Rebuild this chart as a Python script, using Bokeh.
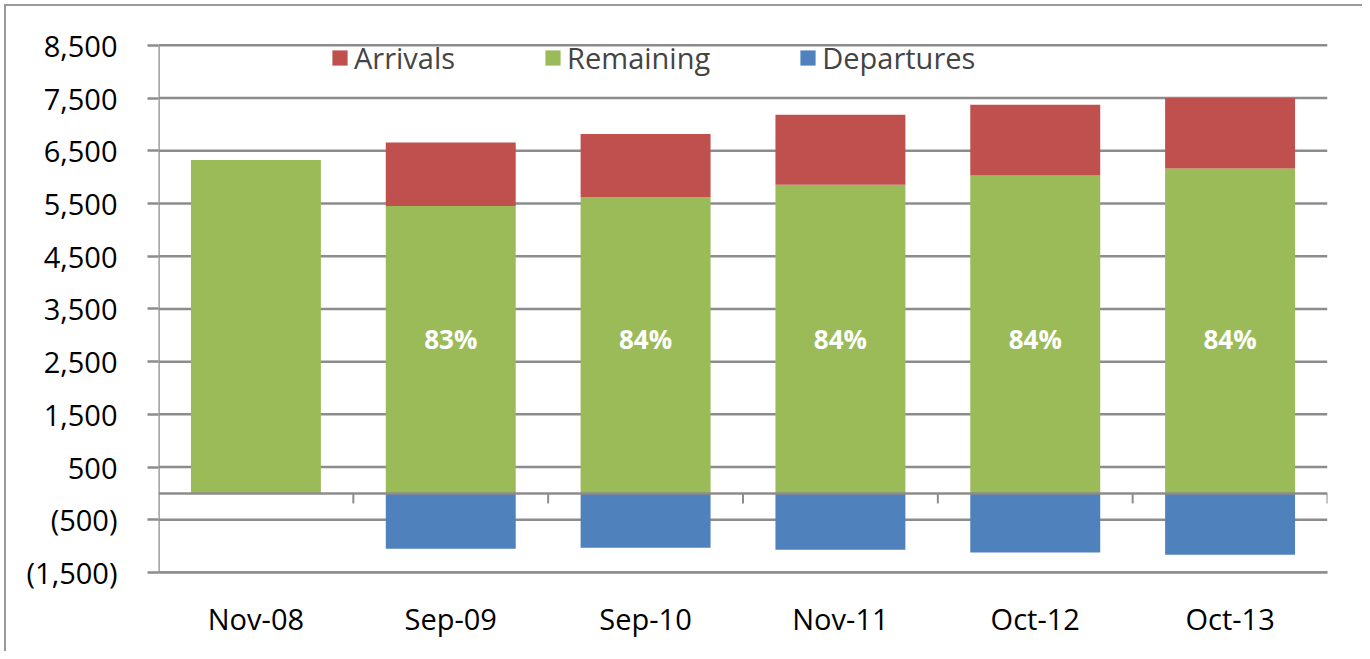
from bokeh.plotting import figure
from bokeh.models import (Range1d, FixedTicker, Legend, LegendItem, ColumnDataSource,
                          Span, LinearAxis, InlineStyleSheet)
from bokeh.core.properties import value
from bokeh.embed import file_html
from bokeh.resources import INLINE

# ---- data ----
categories = ["Nov-08", "Sep-09", "Sep-10", "Nov-11", "Oct-12", "Oct-13"]
remaining = [6325, 5450, 5625, 5855, 6030, 6165]
arrivals = [0, 1205, 1195, 1328, 1343, 1335]
departures = [0, -1050, -1030, -1070, -1120, -1165]
pct_labels = ["", "83%", "84%", "84%", "84%", "84%"]
y_ticks = [-1500, -500, 500, 1500, 2500, 3500, 4500, 5500, 6500, 7500, 8500]
pct_label_y = 2930

RED = "#C0504D"
GREEN = "#9BBB59"
BLUE = "#4F81BD"
GRID = "#8C8C8C"
FONT = "Open Sans"

n = len(categories)
xs = [i + 0.5 for i in range(n)]
bw = 0.667

src = ColumnDataSource(dict(
    x=xs, rem=remaining,
    arr_bottom=remaining,
    arr_top=[r + a for r, a in zip(remaining, arrivals)],
    dep=departures, zero=[0] * n, pct=pct_labels,
    pct_y=[pct_label_y] * n,
))

p = figure(width=1362, height=651, output_backend="svg", toolbar_location=None,
           x_range=Range1d(0, n), y_range=Range1d(-1500, 8800),
           min_border_left=158, min_border_right=35, min_border_top=29,
           min_border_bottom=79, x_axis_location=None, y_axis_location=None)
p.outline_line_color = None
p.background_fill_color = "white"
p.border_fill_color = "white"
p.xgrid.visible = False
p.ygrid.visible = False

# outer chart border (left and top edges), drawn with CSS
p.stylesheets = [InlineStyleSheet(css="""
:host { position: relative; }
:host::after { content: ''; position: absolute; left: 4px; top: 4px; right: 0; bottom: 0;
  border-left: 2px solid #9A9A9A; border-top: 2px solid #9A9A9A; pointer-events: none; }
""")]

# horizontal gridlines
for t in y_ticks:
    p.add_layout(Span(location=t, dimension="width", line_color=GRID, line_width=2.5,
                      level="underlay"))

# y axis line (from -1500 to 8500)
p.segment(x0=[0], x1=[0], y0=[y_ticks[0]], y1=[y_ticks[-1]], line_color=GRID,
          line_width=2.5)

r_rem = p.vbar(x="x", bottom="zero", top="rem", width=bw, source=src,
               fill_color=GREEN, line_color=None)
r_arr = p.vbar(x="x", bottom="arr_bottom", top="arr_top", width=bw, source=src,
               fill_color=RED, line_color=None)
r_dep = p.vbar(x="x", bottom="dep", top="zero", width=bw, source=src,
               fill_color=BLUE, line_color=None)

# zero line with category-boundary ticks
p.add_layout(Span(location=0, dimension="width", line_color=GRID, line_width=2.5))
bx = list(range(1, n + 1))
p.segment(x0=bx, x1=bx, y0=[0] * n, y1=[-190] * n, line_color=GRID, line_width=2)

# percent labels
p.text(x="x", y="pct_y", text="pct", source=src, text_color="white",
       text_font=value(FONT), text_font_style="bold", text_font_size="26px",
       text_align="center", text_baseline="middle")

# y axis
yax = LinearAxis(ticker=FixedTicker(ticks=y_ticks))
yax.major_label_overrides = {t: (f"({abs(t):,})" if t < 0 else f"{t:,}") for t in y_ticks}
yax.axis_line_color = None
yax.major_tick_line_color = GRID
yax.major_tick_line_width = 2.5
yax.major_tick_in = 0
yax.major_tick_out = 11
yax.minor_tick_line_color = None
yax.major_label_standoff = 30
yax.major_label_text_font = FONT
yax.major_label_text_font_size = "29px"
yax.major_label_text_color = "black"
p.add_layout(yax, "left")

# x axis (category labels)
xax = LinearAxis(ticker=FixedTicker(ticks=xs))
xax.major_label_overrides = {x: c for x, c in zip(xs, categories)}
xax.axis_line_color = GRID
xax.axis_line_width = 2.5
xax.major_tick_line_color = None
xax.minor_tick_line_color = None
xax.major_label_standoff = 20
xax.major_label_text_font = FONT
xax.major_label_text_font_size = "29px"
xax.major_label_text_color = "black"
p.add_layout(xax, "below")

legend = Legend(items=[
    LegendItem(label="Arrivals", renderers=[r_arr]),
    LegendItem(label="Remaining", renderers=[r_rem]),
    LegendItem(label="Departures", renderers=[r_dep]),
], orientation="horizontal", location=(172, 495))
legend.background_fill_alpha = 0
legend.border_line_color = None
legend.label_text_font = FONT
legend.label_text_font_size = "29px"
legend.glyph_width = 19
legend.glyph_height = 19
legend.label_standoff = 5
legend.spacing = 88
legend.padding = 0
legend.margin = 0
p.add_layout(legend)

open("out.html", "w").write(file_html(p, INLINE))
